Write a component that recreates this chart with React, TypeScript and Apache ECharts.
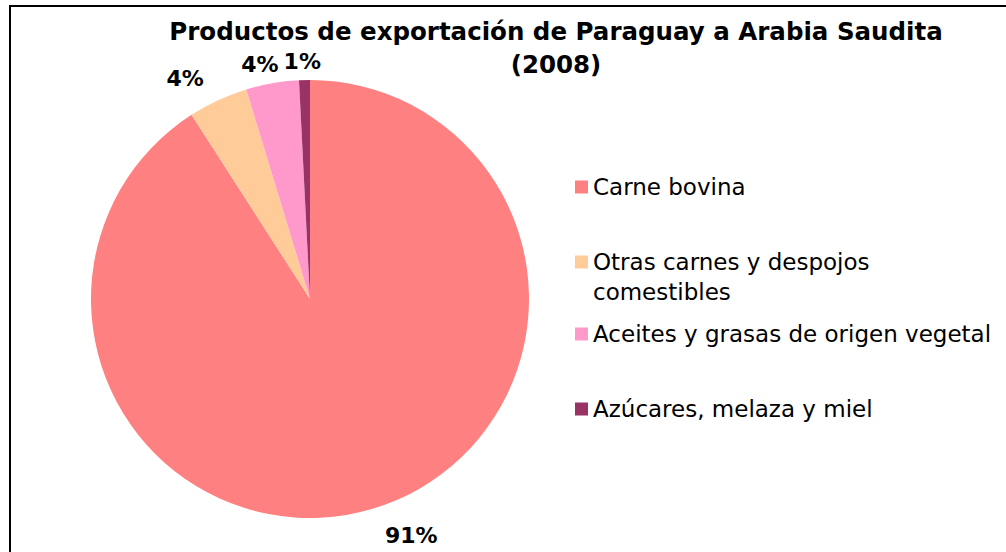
import React, { useEffect, useRef } from "react";
import * as echarts from "echarts";

const titleLines = ["Productos de exportación de Paraguay a Arabia Saudita", "(2008)"];
const categories = [
  "Carne bovina",
  "Otras carnes y despojos comestibles",
  "Aceites y grasas de origen vegetal",
  "Azúcares, melaza y miel",
];
const shares = [90.9, 4.4, 3.9, 0.8];
const colors = ["#FF8080", "#FFCC99", "#FF99CC", "#993366"];
const legendCenters = [187, 262, 334, 409];

export default function App() {
  const ref = useRef<HTMLDivElement>(null);
  useEffect(() => {
    if (!ref.current) return;
    const chart = echarts.init(ref.current, null, { renderer: "svg" });
    const font = "DejaVu Sans";
    const lh = 30;
    const labelShift = [
      { dx: 2, dy: 5 },
      { dx: 0, dy: -2 },
      { dx: 15, dy: 3 },
      { dx: 22, dy: 3 },
    ];
    const legends = categories.map((name, i) => {
      const multi = name.startsWith("Otras");
      return {
        orient: "vertical",
        left: 575,
        top: multi ? legendCenters[i] - 45 : legendCenters[i] - lh / 2,
        padding: 0,
        itemWidth: 13,
        itemHeight: 13,
        icon: "rect",
        data: [name],
        formatter: (n: string) => (n.startsWith("Otras") ? " \nOtras carnes y despojos\ncomestibles" : n),
        textStyle: {
          fontFamily: font,
          fontSize: 23,
          color: "#000",
          lineHeight: lh,
        },
      };
    });
    chart.setOption({
      animation: false,
      backgroundColor: "#fff",
      color: colors,
      title: {
        text: titleLines.join("\n"),
        left: 556,
        top: 15,
        padding: 0,
        textAlign: "center",
        textStyle: {
          fontFamily: font,
          fontSize: 24.5,
          fontWeight: "bold",
          color: "#000",
          lineHeight: 33,
        },
      },
      legend: legends,
      graphic: [
        {
          type: "rect",
          shape: { x: 10, y: 6, width: 1100, height: 700 },
          style: { fill: "none", stroke: "#000", lineWidth: 2 },
          silent: true,
        },
      ],
      series: [
        {
          type: "pie",
          center: [310, 299],
          radius: 219,
          startAngle: 90,
          clockwise: true,
          avoidLabelOverlap: false,
          labelLayout: (p: any) => ({ hideOverlap: false, ...labelShift[p.dataIndex] }),
          data: categories.map((name, i) => ({ name, value: shares[i] })),
          label: {
            show: true,
            position: "outside",
            formatter: (p: any) => Math.round(p.percent) + "%",
            fontFamily: font,
            fontSize: 22,
            fontWeight: "bold",
            color: "#000",
          },
          labelLine: { show: false, length: 22, length2: 0 },
          emphasis: { disabled: true },
        },
      ],
    });
    return () => chart.dispose();
  }, []);
  return (
    <div
      ref={ref}
      style={{ position: "fixed", left: 0, top: 0, width: 1006, height: 552 }}
    />
  );
}
